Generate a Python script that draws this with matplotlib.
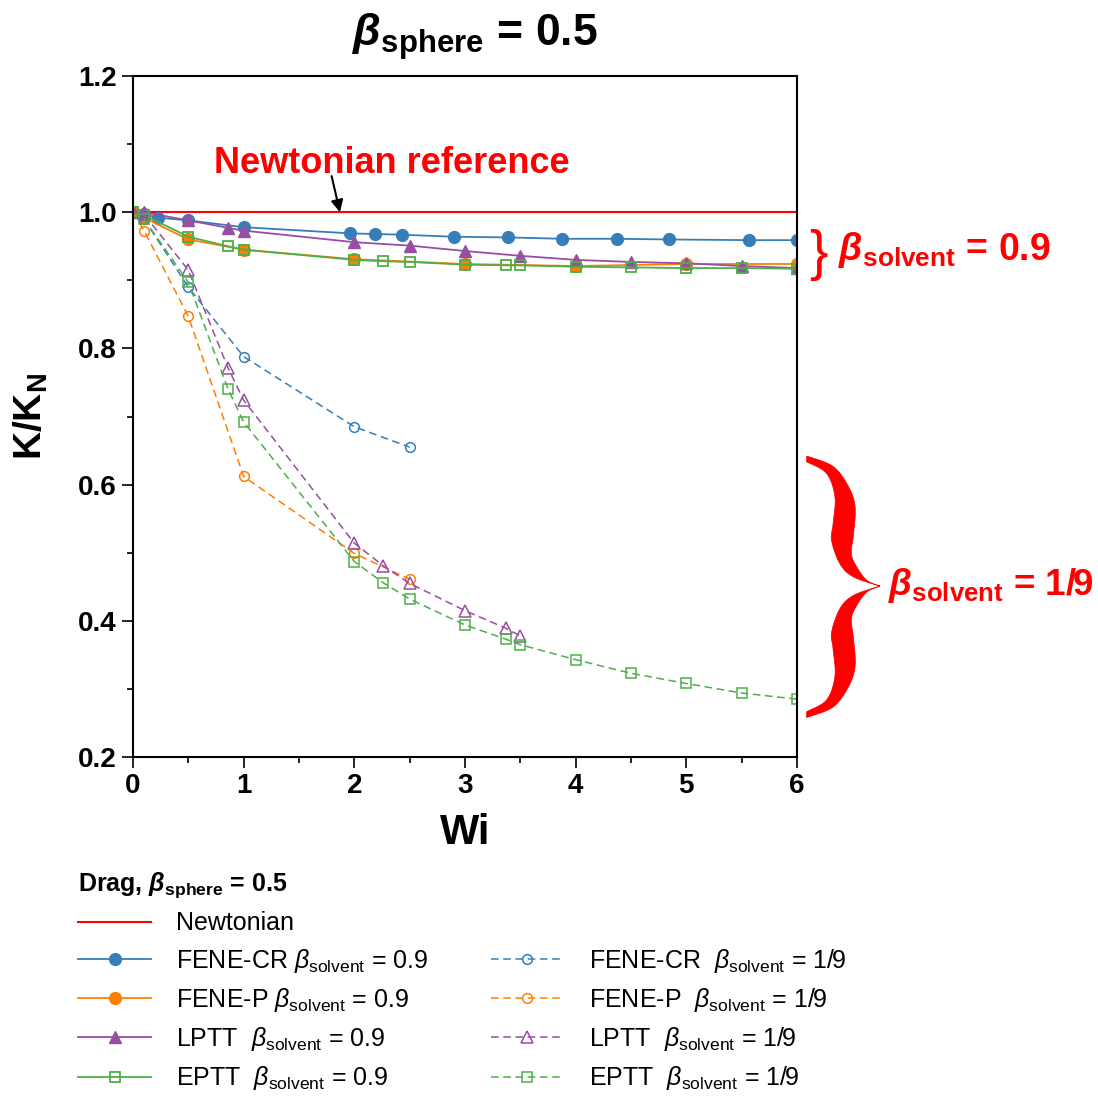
import numpy as np
import matplotlib
matplotlib.use("Agg")
import matplotlib.pyplot as plt
from matplotlib.lines import Line2D
from matplotlib.patches import Polygon
from matplotlib.ticker import MultipleLocator, FormatStrFormatter

# data (Wi, K/K_N)
wi_cr_09 = [0, 0.1, 0.23, 0.5, 1.0, 1.96, 2.19, 2.43, 2.9, 3.39, 3.88, 4.37, 4.84, 5.57, 6.0]
k_cr_09 = [1.0, 0.997, 0.992, 0.988, 0.978, 0.969, 0.968, 0.967, 0.964, 0.963, 0.961, 0.961, 0.960, 0.959, 0.959]
wi_p_09 = [0, 0.1, 0.5, 1, 2, 3, 4, 5, 6]
k_p_09 = [1.0, 0.992, 0.960, 0.945, 0.931, 0.924, 0.921, 0.924, 0.924]
wi_lptt_09 = [0, 0.1, 0.5, 0.86, 1, 2, 2.5, 3, 3.5, 4, 4.5, 5, 5.5, 6]
k_lptt_09 = [1.0, 1.0, 0.988, 0.977, 0.973, 0.956, 0.951, 0.943, 0.936, 0.930, 0.927, 0.925, 0.921, 0.918]
wi_eptt_09 = [0, 0.1, 0.5, 0.86, 1, 2, 2.26, 2.5, 3, 3.37, 3.5, 4, 4.5, 5, 5.5, 6]
k_eptt_09 = [1.0, 0.996, 0.964, 0.950, 0.945, 0.930, 0.928, 0.927, 0.923, 0.922, 0.922, 0.920, 0.919, 0.918, 0.918, 0.917]

wi_cr_19 = [0, 0.1, 0.5, 1, 2, 2.5]
k_cr_19 = [1.0, 0.99, 0.890, 0.788, 0.685, 0.655]
wi_p_19 = [0, 0.1, 0.5, 1, 2, 2.5]
k_p_19 = [1.0, 0.973, 0.847, 0.612, 0.499, 0.461]
wi_lptt_19 = [0, 0.1, 0.5, 0.86, 1, 2, 2.26, 2.5, 3, 3.37, 3.5]
k_lptt_19 = [1.0, 0.997, 0.915, 0.771, 0.724, 0.514, 0.481, 0.455, 0.415, 0.389, 0.378]
wi_eptt_19 = [0, 0.1, 0.5, 0.86, 1, 2, 2.26, 2.5, 3, 3.37, 3.5, 4, 4.5, 5, 5.5, 6]
k_eptt_19 = [1.0, 0.99, 0.897, 0.740, 0.692, 0.487, 0.456, 0.432, 0.394, 0.373, 0.365, 0.343, 0.323, 0.308, 0.294, 0.285]

newt_wi = [0, 6]
newt_k = [1.0, 1.0]

blue = "#377eb8"
orange = "#ff7f00"
purple = "#984ea3"
green = "#4daf4a"
dash = (0, (5, 3))

plt.rcParams["font.family"] = ["Liberation Sans", "DejaVu Sans"]
plt.rcParams["mathtext.fontset"] = "custom"
plt.rcParams["mathtext.rm"] = "Liberation Sans"
plt.rcParams["mathtext.it"] = "Liberation Sans:italic"
plt.rcParams["mathtext.bf"] = "Liberation Sans:bold"
plt.rcParams["mathtext.bfit"] = "Liberation Sans:italic:bold"


def smooth(pts, n=12):
    # catmull-rom through the given points
    pts = np.asarray(pts, float)
    ext = np.vstack([pts[0], pts, pts[-1]])
    out = []
    for i in range(1, len(ext) - 2):
        p0, p1, p2, p3 = ext[i - 1], ext[i], ext[i + 1], ext[i + 2]
        for t in np.linspace(0, 1, n, endpoint=False):
            out.append(0.5 * ((2 * p1) + (-p0 + p2) * t
                              + (2 * p0 - 5 * p1 + 4 * p2 - p3) * t ** 2
                              + (-p0 + 3 * p1 - 3 * p2 + p3) * t ** 3))
    out.append(pts[-1])
    return np.array(out)


def brace(ax, x0, xtip, ytop, ytip, ybot, color):
    # upper half outline in unit coords (u right, v down towards the tip)
    outer = [(0, 0), (0.36, 0.08), (0.57, 0.235), (0.66, 0.39), (0.64, 0.595),
             (0.61, 0.75), (0.68, 0.85), (0.82, 0.955), (1.0, 1.0)]
    inner = [(0, 0.045), (0.27, 0.133), (0.385, 0.313), (0.36, 0.52), (0.34, 0.65),
             (0.455, 0.83), (0.64, 0.93), (1.0, 1.0)]
    o = smooth(outer)
    i = smooth(inner)
    w = xtip - x0
    up_o = np.column_stack([x0 + o[:, 0] * w, ytop - o[:, 1] * (ytop - ytip)])
    up_i = np.column_stack([x0 + i[:, 0] * w, ytop - i[:, 1] * (ytop - ytip)])
    lo_o = np.column_stack([x0 + o[:, 0] * w, ybot + o[:, 1] * (ytip - ybot)])
    lo_i = np.column_stack([x0 + i[:, 0] * w, ybot + i[:, 1] * (ytip - ybot)])
    poly = np.vstack([up_o, lo_o[::-1], lo_i, up_i[::-1]])
    ax.add_patch(Polygon(poly, closed=True, facecolor=color, edgecolor=color,
                         lw=0.5, clip_on=False, transform=ax.transData))


fig = plt.figure(figsize=(10.98, 10.97), dpi=100)
ax = fig.add_axes([0.1211, 0.3099, 0.6048, 0.6208])

h_newt, = ax.plot(newt_wi, newt_k, color="red", lw=1.5, label="Newtonian")

h1, = ax.plot(wi_cr_09, k_cr_09, "-o", color=blue, lw=1.3, ms=8.5,
              label=r"FENE-CR $\beta_{\mathrm{solvent}}$ = 0.9")
h2, = ax.plot(wi_p_09, k_p_09, "-o", color=orange, lw=1.3, ms=8.5,
              label=r"FENE-P $\beta_{\mathrm{solvent}}$ = 0.9")
h3, = ax.plot(wi_lptt_09, k_lptt_09, "-^", color=purple, lw=1.3, ms=9,
              label=r"LPTT  $\beta_{\mathrm{solvent}}$ = 0.9")
h4, = ax.plot(wi_eptt_09, k_eptt_09, "-s", color=green, lw=1.3, ms=7.5,
              mfc="none", mew=1.3, label=r"EPTT  $\beta_{\mathrm{solvent}}$ = 0.9")

h5, = ax.plot(wi_cr_19, k_cr_19, marker="o", ls=dash, color=blue, lw=1.1, ms=7,
              mfc="none", mew=1.1, label=r"FENE-CR  $\beta_{\mathrm{solvent}}$ = 1/9")
h6, = ax.plot(wi_p_19, k_p_19, marker="o", ls=dash, color=orange, lw=1.1, ms=7,
              mfc="none", mew=1.1, label=r"FENE-P  $\beta_{\mathrm{solvent}}$ = 1/9")
h7, = ax.plot(wi_lptt_19, k_lptt_19, marker="^", ls=dash, color=purple, lw=1.1, ms=8,
              mfc="none", mew=1.1, label=r"LPTT  $\beta_{\mathrm{solvent}}$ = 1/9")
h8, = ax.plot(wi_eptt_19, k_eptt_19, marker="s", ls=dash, color=green, lw=1.1, ms=7,
              mfc="none", mew=1.1, label=r"EPTT  $\beta_{\mathrm{solvent}}$ = 1/9")

ax.set_xlim(0, 6)
ax.set_ylim(0.2, 1.2)
ax.xaxis.set_major_locator(MultipleLocator(1))
ax.xaxis.set_minor_locator(MultipleLocator(0.5))
ax.yaxis.set_major_locator(MultipleLocator(0.2))
ax.yaxis.set_minor_locator(MultipleLocator(0.1))
ax.yaxis.set_major_formatter(FormatStrFormatter("%.1f"))
ax.tick_params(which="major", direction="out", length=8, width=1.2)
ax.tick_params(which="minor", direction="out", length=4, width=1.2)
for lab in ax.get_xticklabels() + ax.get_yticklabels():
    lab.set_fontweight("bold")
    lab.set_fontsize(20)
for sp in ax.spines.values():
    sp.set_linewidth(1.5)

ax.set_xlabel("Wi", fontsize=30, fontweight="bold", labelpad=10)
ax.set_ylabel(r"K/K$_{\mathbf{N}}$", fontsize=28, fontweight="bold", labelpad=20)
ax.set_title(r"$\mathbfit{\beta}_{\mathbf{sphere}}$ = 0.5", fontsize=32,
             fontweight="bold", pad=22, x=0.515)

ax.text(2.34, 1.072, "Newtonian reference", color="red", fontsize=26,
        fontweight="bold", ha="center", va="center")
ax.annotate("", xy=(1.87, 1.0), xytext=(1.795, 1.053),
            arrowprops=dict(arrowstyle="-|>", color="black", lw=1.5,
                            mutation_scale=18, shrinkA=0, shrinkB=0))

# braces and labels outside the axes
ax.text(6.19, 0.937, "}", color="red", fontsize=40, ha="center", va="center",
        clip_on=False)
ax.text(6.37, 0.945, r"$\mathbfit{\beta}_{\mathbf{solvent}}$ = 0.9", color="red",
        fontsize=27, fontweight="bold", ha="left", va="center", clip_on=False)
brace(ax, 6.087, 6.75, 0.642, 0.451, 0.258, "red")
ax.text(6.82, 0.452, r"$\mathbfit{\beta}_{\mathbf{solvent}}$ = 1/9", color="red",
        fontsize=26.5, fontweight="bold", ha="left", va="center", clip_on=False)

blank = Line2D([], [], linestyle="none", label=" ")
handles = [h_newt, h1, h2, h3, h4, blank, h5, h6, h7, h8]
leg = fig.legend(handles=handles, loc="upper left", bbox_to_anchor=(0.051, 0.227),
                 ncol=2, frameon=False, fontsize=18, handlelength=2.9,
                 handletextpad=1.0, columnspacing=2.5, labelspacing=0.45,
                 title=r"Drag, $\mathbfit{\beta}_{\mathbf{sphere}}$ = 0.5",
                 title_fontproperties={"weight": "bold", "size": 18},
                 alignment="left")

fig.savefig("out.png", dpi=100)
